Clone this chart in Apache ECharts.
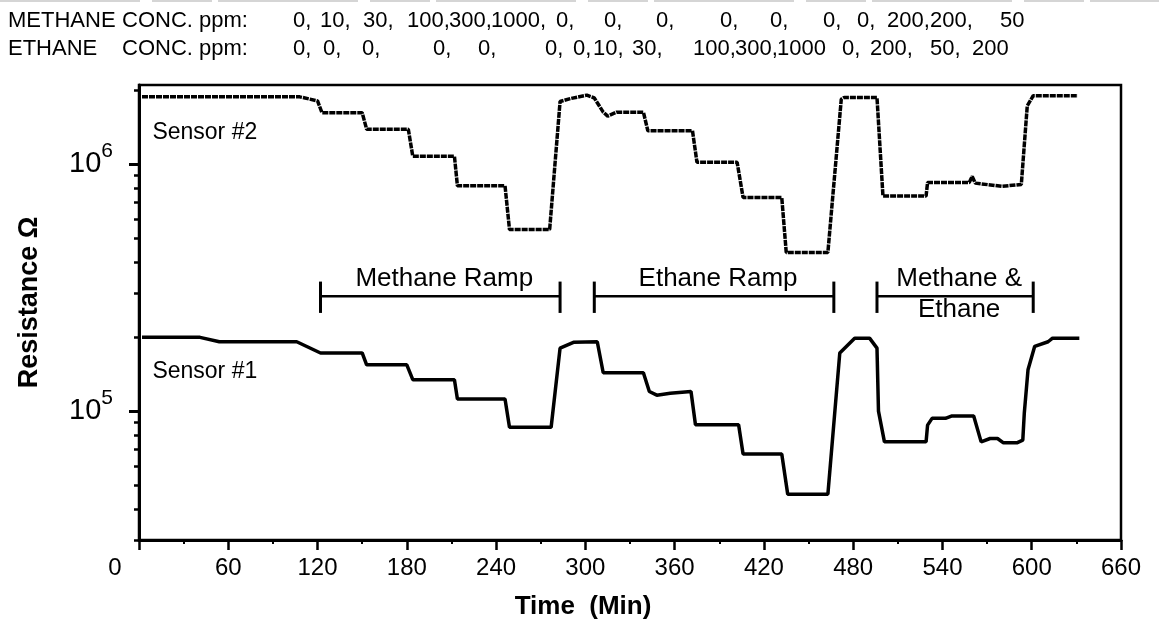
<!DOCTYPE html>
<html>
<head>
<meta charset="utf-8">
<script src="https://cdn.jsdelivr.net/npm/echarts@6/dist/echarts.min.js"></script>
<style>
  html, body { margin: 0; padding: 0; background: #fff; }
  #chart { width: 1159px; height: 625px; }
</style>
</head>
<body>
<div id="chart"></div>
<script>
// sensor #2 (upper, dotted trace) - time in min, resistance in ohm
var sensor2Time = [2, 108, 120, 123, 150, 153, 181, 184, 212, 214, 246, 249, 276, 283, 290, 301, 306, 312, 315, 321, 339, 342, 372, 375, 402, 406, 432, 435, 463, 472, 474, 496, 500, 529, 530, 558, 560, 562, 580, 593, 597, 601, 631];
var sensor2Res = [1.88e6, 1.88e6, 1.81e6, 1.62e6, 1.62e6, 1.39e6, 1.39e6, 1.08e6, 1.08e6, 8.2e5, 8.2e5, 5.45e5, 5.45e5, 1.8e6, 1.85e6, 1.91e6, 1.86e6, 1.63e6, 1.57e6, 1.63e6, 1.63e6, 1.37e6, 1.37e6, 1.02e6, 1.02e6, 7.35e5, 7.35e5, 4.4e5, 4.4e5, 1.84e6, 1.87e6, 1.87e6, 7.45e5, 7.45e5, 8.45e5, 8.45e5, 8.95e5, 8.4e5, 8.15e5, 8.3e5, 1.73e6, 1.9e6, 1.9e6];

// sensor #1 (lower, solid trace)
var sensor1Time = [2, 41, 54, 106, 122, 150, 153, 180, 184, 212, 214, 246, 249, 277, 283, 292, 308, 312, 339, 343, 348, 357, 371, 374, 403, 406, 432, 436, 463, 471, 481, 491, 496, 497, 501, 529, 530, 533, 542, 546, 561, 566, 572, 577, 581, 590, 594, 595, 597.5, 602, 611, 614, 632];
var sensor1Res = [1.99e5, 1.99e5, 1.91e5, 1.91e5, 1.72e5, 1.72e5, 1.54e5, 1.54e5, 1.34e5, 1.34e5, 1.12e5, 1.12e5, 8.6e4, 8.6e4, 1.8e5, 1.9e5, 1.91e5, 1.43e5, 1.43e5, 1.2e5, 1.16e5, 1.18e5, 1.2e5, 8.8e4, 8.8e4, 6.7e4, 6.7e4, 4.6e4, 4.6e4, 1.72e5, 1.975e5, 1.975e5, 1.8e5, 1.0e5, 7.5e4, 7.5e4, 8.77e4, 9.34e4, 9.34e4, 9.54e4, 9.54e4, 7.5e4, 7.74e4, 7.74e4, 7.43e4, 7.43e4, 7.62e4, 9.8e4, 1.47e5, 1.83e5, 1.91e5, 1.975e5, 1.975e5];

// gas concentration rows printed above the plot
var methaneTokens = ['0,', '10,', '30,', '100,', '300,', '1000,', '0,', '0,', '0,', '0,', '0,', '0,', '0,', '200,', '200,', '50'];
var ethaneTokens  = ['0,', '0,', '0,', '0,', '0,', '0,', '0,', '10,', '30,', '100,', '300,', '1000', '0,', '200,', '50,', '200'];
var rowNames = ['METHANE', 'ETHANE'];
var rowUnit = 'CONC. ppm:';

// exposure brackets
var bracketStart = [122, 306, 496];
var bracketEnd   = [283, 467, 601];
var bracketTopText = ['Methane Ramp', 'Ethane Ramp', 'Methane &'];
var bracketBottomText = ['', '', 'Ethane'];

// sensor names
var sensorLabelTime = [9, 9];
var sensorLabelRes  = [1.34e6, 1.44e5];
var sensorLabelText = ['Sensor #2', 'Sensor #1'];

// axis ticks
var xMin = 0, xMax = 660, xStep = 60;
var yMin = 3e4, yMax = 2.1e6;
var yMajorTicks = [1e5, 1e6];
var yMinorTicks = [3e4, 4e4, 5e4, 6e4, 7e4, 8e4, 9e4, 2e5, 3e5, 4e5, 5e5, 6e5, 7e5, 8e5, 9e5, 2e6];

// ----- layout (not data) -----
var bracketLevel = 2.92e5, capTop = 3.35e5, capBottom = 2.5e5;
var methaneX = [293, 320, 363, 407, 449, 491, 556, 604, 656, 720, 770, 823, 857, 887, 930, 1000];
var ethaneX  = [293, 323, 362, 433, 478, 545, 573, 593, 632, 693, 735, 777, 842, 870, 930, 972];
var rowTop = [10, 38];
var headFont = '22px Arial, Helvetica, sans-serif';
var sans = "'Liberation Sans', Arial, Helvetica, sans-serif";

function zip(a, b) {
  return a.map(function (v, i) { return [v, b[i]]; });
}

function txt(x, y, s) {
  return { type: 'text', left: x, top: y, style: { text: s, font: headFont, fill: '#000' } };
}

var graphics = [
  { type: 'line', shape: { x1: 0, y1: 1, x2: 1159, y2: 1 }, style: { stroke: '#c8c8c8', lineWidth: 1.5, lineDash: [140, 12, 60, 6] } }
];
rowNames.forEach(function (n, r) {
  graphics.push(txt(8, rowTop[r], n));
  graphics.push(txt(122, rowTop[r], rowUnit));
});
methaneTokens.forEach(function (t, i) { graphics.push(txt(methaneX[i], rowTop[0], t)); });
ethaneTokens.forEach(function (t, i) { graphics.push(txt(ethaneX[i], rowTop[1], t)); });

var chart = echarts.init(document.getElementById('chart'));
var option = {
  animation: false,
  backgroundColor: '#fff',
  grid: { left: 139, right: 38, top: 85, bottom: 85, show: true, borderColor: '#000', borderWidth: 2.5 },
  graphic: graphics,
  xAxis: {
    type: 'value', min: xMin, max: xMax, interval: xStep,
    axisLine: { lineStyle: { color: '#000', width: 3 } },
    axisTick: { length: 10, lineStyle: { color: '#000', width: 2.5 } },
    minorTick: { show: true, splitNumber: 2, length: 4, lineStyle: { color: '#000', width: 2 } },
    splitLine: { show: false },
    axisLabel: {
      color: '#000', fontSize: 24, fontFamily: sans, margin: 16,
      formatter: function (v) { return v === 0 ? '{z|0}' : String(v); },
      rich: { z: { fontSize: 24, fontFamily: sans, color: '#000', padding: [0, 48, 0, 0] } }
    },
    name: 'Time  (Min)', nameLocation: 'middle', nameGap: 54,
    nameTextStyle: { color: '#000', fontSize: 26, fontWeight: 'bold', fontFamily: sans, padding: [0, 94, 0, 0] }
  },
  yAxis: [{
    type: 'log', logBase: 10, min: yMin, max: yMax,
    axisLine: { show: true, lineStyle: { color: '#000', width: 3 } },
    axisTick: { show: true, length: 5, customValues: yMinorTicks, lineStyle: { color: '#000', width: 2.5 } },
    axisLabel: { show: false },
    splitLine: { show: false },
    name: 'Resistance \u03A9', nameLocation: 'middle', nameGap: 96,
    nameTextStyle: { color: '#000', fontSize: 27, fontWeight: 'bold', fontFamily: sans, padding: [0, 0, 0, 20] }
  }, {
    type: 'log', logBase: 10, min: yMin, max: yMax, position: 'left',
    axisLine: { show: false },
    axisTick: { show: true, length: 10, customValues: yMajorTicks, lineStyle: { color: '#000', width: 3 } },
    axisLabel: {
      customValues: yMajorTicks, margin: 26, color: '#000',
      formatter: function (v) { return '{b|10}{s|' + Math.round(Math.log10(v)) + '}'; },
      rich: {
        b: { fontSize: 29, fontFamily: sans, color: '#000' },
        s: { fontSize: 21, fontFamily: sans, color: '#000', padding: [0, 0, 26, 0] }
      }
    },
    splitLine: { show: false }
  }],
  series: [{
    name: 'Sensor #2', type: 'line', data: zip(sensor2Time, sensor2Res),
    showSymbol: false, symbol: 'none',
    lineStyle: { color: '#000', width: 3.5, type: [6, 1] }
  }, {
    name: 'Sensor #1', type: 'line', data: zip(sensor1Time, sensor1Res),
    showSymbol: false, symbol: 'none',
    lineStyle: { color: '#000', width: 3.5 }
  }, {
    type: 'custom', silent: true,
    data: bracketStart.map(function (s, i) { return [s, bracketLevel, bracketEnd[i]]; }),
    encode: { x: 0, y: 1 },
    renderItem: function (params, api) {
      var i = params.dataIndex;
      var a = api.coord([api.value(0), bracketLevel]);
      var b = api.coord([api.value(2), bracketLevel]);
      var yt = api.coord([api.value(0), capTop])[1];
      var yb = api.coord([api.value(0), capBottom])[1];
      var cx = (a[0] + b[0]) / 2;
      var kids = [
        { type: 'line', shape: { x1: a[0], y1: a[1], x2: b[0], y2: b[1] }, style: { stroke: '#000', lineWidth: 2.5 } },
        { type: 'line', shape: { x1: a[0], y1: yt, x2: a[0], y2: yb }, style: { stroke: '#000', lineWidth: 3 } },
        { type: 'line', shape: { x1: b[0], y1: yt, x2: b[0], y2: yb }, style: { stroke: '#000', lineWidth: 3 } },
        { type: 'text', style: { text: bracketTopText[i], x: cx + 4, y: a[1] - 4, align: 'center', verticalAlign: 'bottom', font: '26px ' + sans, fill: '#000' } }
      ];
      if (bracketBottomText[i]) {
        kids.push({ type: 'text', style: { text: bracketBottomText[i], x: cx + 4, y: a[1] + 1, align: 'center', verticalAlign: 'top', font: '26px ' + sans, fill: '#000' } });
      }
      return { type: 'group', children: kids };
    }
  }, {
    type: 'custom', silent: true,
    data: zip(sensorLabelTime, sensorLabelRes),
    encode: { x: 0, y: 1 },
    renderItem: function (params, api) {
      var p = api.coord([api.value(0), api.value(1)]);
      return { type: 'text', style: { text: sensorLabelText[params.dataIndex], x: p[0], y: p[1], align: 'left', verticalAlign: 'middle', font: '23px ' + sans, fill: '#000' } };
    }
  }]
};
chart.setOption(option);
</script>
</body>
</html>
